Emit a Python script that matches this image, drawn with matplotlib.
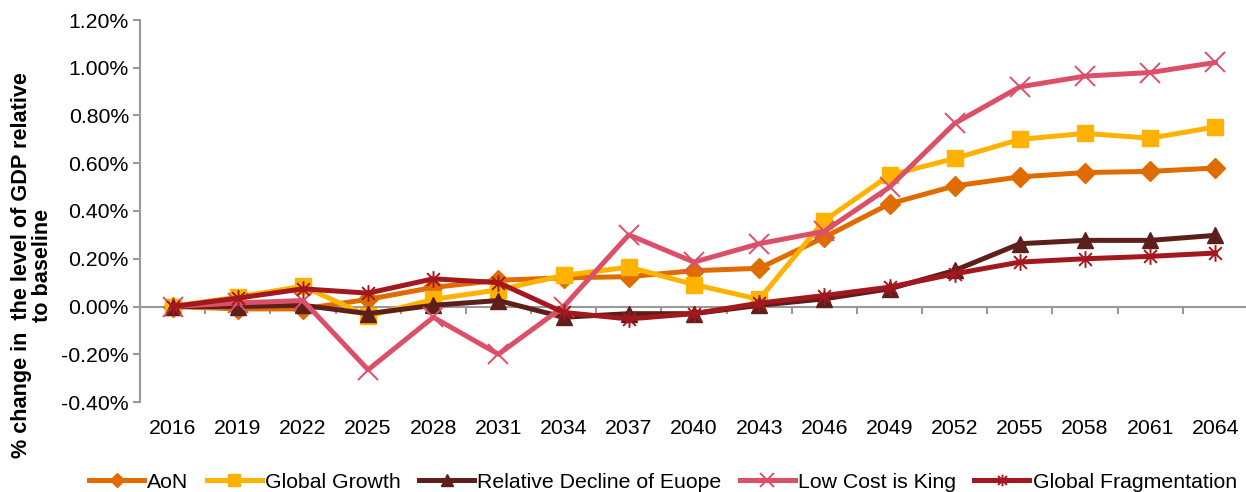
import matplotlib.pyplot as plt
import numpy as np
from matplotlib.path import Path
from matplotlib.ticker import FuncFormatter

plt.rcParams['font.family'] = ['Liberation Sans', 'DejaVu Sans']

years = ['2016', '2019', '2022', '2025', '2028', '2031', '2034', '2037', '2040',
         '2043', '2046', '2049', '2052', '2055', '2058', '2061', '2064']

aon = [0.00, -0.01, -0.01, 0.03, 0.08, 0.11, 0.12, 0.125, 0.15, 0.16, 0.29,
       0.43, 0.505, 0.543, 0.561, 0.566, 0.58]
global_growth = [0.00, 0.04, 0.085, -0.04, 0.03, 0.07, 0.13, 0.165, 0.092, 0.03,
                 0.36, 0.55, 0.62, 0.70, 0.725, 0.705, 0.752]
rel_decline = [0.00, 0.00, 0.005, -0.03, 0.005, 0.025, -0.045, -0.03, -0.03,
               0.005, 0.032, 0.074, 0.151, 0.263, 0.277, 0.277, 0.298]
low_cost = [0.00, 0.015, 0.025, -0.265, -0.045, -0.20, 0.00, 0.30, 0.186, 0.263,
            0.315, 0.50, 0.767, 0.92, 0.965, 0.98, 1.022]
fragmentation = [0.00, 0.035, 0.074, 0.056, 0.116, 0.10, -0.025, -0.052, -0.03,
                 0.014, 0.046, 0.081, 0.137, 0.186, 0.20, 0.21, 0.224]

# excel style star: an x with a vertical bar
star = Path([(-1, -1), (1, 1), (-1, 1), (1, -1), (0, -1.3), (0, 1.3)],
            [Path.MOVETO, Path.LINETO, Path.MOVETO, Path.LINETO, Path.MOVETO, Path.LINETO])

series = [
    ('AoN', aon, '#E06C00', 'D', 10, None),
    ('Global Growth', global_growth, '#FFB300', 's', 12, None),
    ('Relative Decline of Euope', rel_decline, '#5C1F1B', '^', 12, None),
    ('Low Cost is King', low_cost, '#DB5068', 'x', 14, 1.4),
    ('Global Fragmentation', fragmentation, '#A3181E', star, 12, 1.4),
]

fig = plt.figure(figsize=(12.46, 4.92), dpi=100)
ax = fig.add_axes([140 / 1246, 90 / 492, 1108 / 1246, 382 / 492])

x = np.arange(len(years))
for name, vals, col, mk, ms, mew in series:
    kw = dict(markeredgewidth=mew) if mew else {}
    ax.plot(x, vals, color=col, lw=3.6, marker=mk, markersize=ms,
            markerfacecolor=col, markeredgecolor=col, label=name, **kw)

ax.set_xlim(-0.5, len(years) - 0.5)
ax.set_ylim(-0.4, 1.2)
ax.set_yticks(np.arange(-0.4, 1.21, 0.2))
ax.yaxis.set_major_formatter(FuncFormatter(lambda v, p: f'{v:.2f}%'))
ax.set_xticks(x)
ax.set_xticklabels(years)

for s in ['top', 'right', 'bottom']:
    ax.spines[s].set_visible(False)
ax.spines['left'].set_color('#999999')
ax.spines['left'].set_linewidth(1.5)
ax.tick_params(axis='y', colors='#999999', labelcolor='black', labelsize=15.3,
               length=5, width=1.5, pad=3)
ax.tick_params(axis='x', length=0, labelsize=15.3, pad=12)

# category axis crossing at zero
sec = ax.secondary_xaxis(0.25)
sec.set_xticks(np.arange(-0.5, len(years), 1.0))
sec.set_xticklabels([])
sec.spines['bottom'].set_color('#999999')
sec.spines['bottom'].set_linewidth(1.5)
sec.tick_params(axis='x', colors='#999999', length=5, width=1.5)
sec.set_zorder(0)

fig.text(32 / 1246, (492 - 265) / 492,
         '% change in  the level of GDP relative\nto baseline',
         rotation=90, ha='center', va='center', multialignment='center',
         fontsize=15.6, fontweight='bold', linespacing=1.05)

fig.legend(loc='center', bbox_to_anchor=(0.532, 0.02), ncol=5, frameon=False,
           fontsize=15.3, handlelength=2.6, handletextpad=0.15, columnspacing=0.85,
           markerscale=0.7)

fig.savefig('out.png', dpi=100)
